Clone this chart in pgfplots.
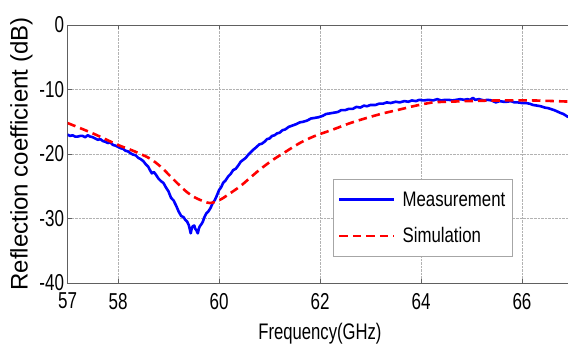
\documentclass[border=0pt]{standalone}
\usepackage{fontspec}
\setmainfont{Liberation Sans}
\newfontfamily\condfont{Liberation Sans}[FakeStretch=0.74]
\newfontfamily\legfont{Liberation Sans}[FakeStretch=0.8]
\usepackage{pgfplots}
\pgfplotsset{compat=1.18}
\begin{document}
\begin{tikzpicture}
\begin{axis}[
 scale only axis, width=505pt, height=258pt,
 xmin=57, xmax=67, ymin=-40, ymax=0,
 xtick={57,58,60,62,64,66}, ytick={-40,-30,-20,-10,0},
 grid=major, grid style={densely dotted, gray!60, line width=0.6pt},
 axis line style={gray!75!black, line width=0.7pt},
 tick style={gray!75!black}, tick align=inside, major tick length=4pt,
 /pgf/number format/assume math mode=true,
 ticklabel style={font=\condfont\fontsize{23}{23}\selectfont},
 xticklabel style={yshift=-6.5pt},
 yticklabel style={xshift=0pt},
 xlabel={Frequency(GHz)}, ylabel={Reflection coefficient (dB)},
 xlabel style={font=\condfont\fontsize{22.5}{22.5}\selectfont, yshift=-7.5pt},
 ylabel style={font=\fontsize{24}{24}\selectfont, yshift=0pt},
 legend cell align=left,
 legend style={at={(axis cs:62.25,-23.92)}, anchor=north west,
   draw=gray!70, line width=0.7pt, inner xsep=5pt, inner ysep=10pt,
   row sep=16pt, font=\legfont\fontsize{21}{21}\selectfont},
 /tikz/every odd column/.append style={column sep=5pt},
 legend image code/.code={\draw[#1] (6pt,0pt) -- (61pt,0pt);},
]
\addplot[blue, line width=2.6pt, line join=round] coordinates {
(57.00,-17.0) (57.05,-17.2) (57.10,-17.1) (57.15,-17.3) (57.20,-17.3) (57.25,-17.2)
(57.30,-17.2) (57.35,-17.4) (57.40,-17.1) (57.45,-17.3) (57.50,-17.4) (57.55,-17.6)
(57.60,-17.8) (57.65,-17.7) (57.70,-18.0) (57.75,-18.1) (57.80,-18.3) (57.85,-18.2)
(57.90,-18.6) (57.95,-18.7) (58.00,-18.9) (58.05,-19.1) (58.10,-19.2) (58.15,-19.5)
(58.20,-19.6) (58.25,-19.9) (58.30,-20.1) (58.35,-20.2) (58.40,-20.6) (58.45,-20.8)
(58.50,-21.1) (58.55,-21.6) (58.60,-22.0) (58.64,-22.6) (58.67,-23.0) (58.71,-22.8)
(58.75,-23.2) (58.80,-23.8) (58.85,-24.2) (58.90,-24.5) (58.95,-25.2) (59.00,-25.8)
(59.05,-26.8) (59.10,-27.2) (59.15,-28.0) (59.20,-28.9) (59.25,-29.6) (59.30,-29.8)
(59.33,-30.2) (59.37,-30.5) (59.40,-31.0) (59.42,-31.6) (59.44,-32.3) (59.46,-31.5)
(59.48,-31.2) (59.51,-31.1) (59.53,-31.6) (59.55,-31.8) (59.58,-32.3) (59.60,-31.6)
(59.62,-31.2) (59.65,-30.9) (59.68,-30.5) (59.71,-29.8) (59.75,-29.2) (59.79,-28.9)
(59.83,-28.4) (59.87,-27.7) (59.92,-27.1) (59.96,-26.4) (60.00,-25.6) (60.04,-25.2)
(60.08,-24.5) (60.13,-24.1) (60.18,-23.5) (60.23,-23.1) (60.28,-22.5) (60.33,-22.3)
(60.38,-21.8) (60.43,-21.2) (60.48,-20.9) (60.53,-20.6) (60.58,-20.1) (60.62,-19.8)
(60.67,-19.4) (60.73,-19.0) (60.80,-18.5) (60.85,-18.4) (60.90,-18.1) (60.95,-17.7)
(61.00,-17.6) (61.05,-17.2) (61.10,-17.1) (61.15,-16.8) (61.20,-16.7) (61.26,-16.3)
(61.31,-16.2) (61.38,-15.8) (61.45,-15.6) (61.52,-15.4) (61.60,-15.1) (61.67,-15.0)
(61.75,-14.8) (61.82,-14.5) (61.90,-14.4) (61.97,-14.3) (62.05,-14.1) (62.12,-13.8)
(62.20,-13.7) (62.27,-13.6) (62.35,-13.5) (62.42,-13.2) (62.50,-13.2) (62.57,-13.0)
(62.65,-13.0) (62.72,-12.7) (62.80,-12.8) (62.87,-12.5) (62.93,-12.6) (63.00,-12.4)
(63.10,-12.4) (63.17,-12.2) (63.25,-12.2) (63.32,-12.0) (63.40,-12.1) (63.50,-11.9)
(63.58,-12.0) (63.67,-11.8) (63.75,-11.9) (63.82,-11.7) (63.90,-11.8) (63.97,-11.6)
(64.05,-11.7) (64.15,-11.6) (64.24,-11.7) (64.32,-11.5) (64.40,-11.7) (64.48,-11.6)
(64.55,-11.6) (64.62,-11.7) (64.70,-11.6) (64.78,-11.5) (64.85,-11.6) (64.92,-11.5)
(64.97,-11.6) (65.03,-11.3) (65.07,-11.6) (65.15,-11.5) (65.25,-11.7) (65.32,-11.6)
(65.40,-11.7) (65.48,-12.0) (65.56,-11.8) (65.63,-11.9) (65.70,-11.9) (65.78,-11.8)
(65.85,-12.0) (65.92,-12.0) (66.00,-12.1) (66.08,-12.1) (66.15,-12.2) (66.22,-12.4)
(66.30,-12.5) (66.37,-12.6) (66.45,-12.8) (66.52,-12.9) (66.60,-13.1) (66.67,-13.3)
(66.75,-13.6) (66.82,-13.8) (66.90,-14.2) (67.00,-14.4)
};
\addlegendentry{Measurement}
\addplot[red, line width=2.6pt, dash pattern=on 8.5pt off 5pt, smooth] coordinates {
(57.00,-15.2) (57.50,-16.8) (58.00,-18.6) (58.30,-19.5) (58.63,-20.7) (58.85,-22.0)
(59.03,-23.4) (59.29,-25.4) (59.45,-26.4) (59.62,-27.1) (59.82,-27.6) (60.02,-27.1)
(60.20,-26.2) (60.42,-25.0) (60.60,-23.8) (60.81,-22.4) (61.05,-21.0) (61.27,-19.9)
(61.60,-18.3) (61.90,-17.2) (62.26,-16.2) (62.60,-15.2) (62.93,-14.4) (63.25,-13.7)
(63.58,-13.1) (63.90,-12.5) (64.24,-12.0) (64.55,-11.9) (64.91,-11.8) (65.56,-11.7)
(66.22,-11.7) (67.00,-11.9)
};
\addlegendentry{Simulation}
\coordinate (bl) at (axis cs:55.663,-49.61);
\coordinate (tr) at (axis cs:66.911,3.876);
\end{axis}
\pgfresetboundingbox
\useasboundingbox (bl) rectangle (tr);
\end{tikzpicture}
\end{document}
